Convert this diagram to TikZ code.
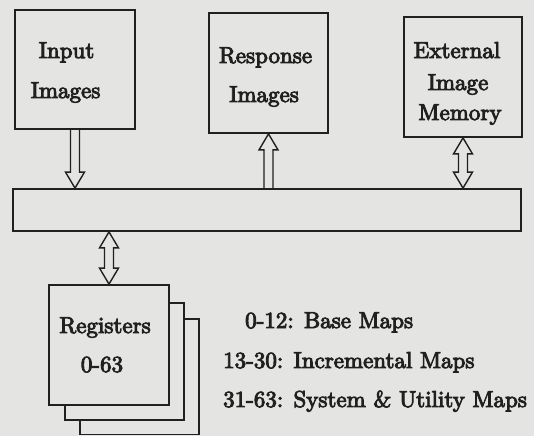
\documentclass[tikz,border=0pt]{standalone}
\usepackage{fontspec}
\newfontfamily\lblfont{lmroman10-regular.otf}[FakeBold=4]
\usetikzlibrary{calc}
\definecolor{paper}{RGB}{228,228,226}
\definecolor{ink}{RGB}{32,32,32}
\tikzset{
  box/.style={draw=ink, line width=1.8pt, rectangle, inner sep=0pt},
  stackbox/.style={box, fill=paper},
  lbl/.style={inner sep=0pt, anchor=base, text=ink, font=\lblfont\fontsize{23}{27}\selectfont},
  lbll/.style={lbl, anchor=base west},
  arr/.style={draw=ink, line width=1.4pt, line join=miter}
}
\newcommand\arrdown[2]{\draw[arr] let \p1=(#1), \p2=(#2) in
  (\x1-4.5pt,\y1) -- (\x1-4.5pt,\y2+16pt) -- (\x1-9.5pt,\y2+16pt) -- (\x1,\y2)
  -- (\x1+9.5pt,\y2+16pt) -- (\x1+4.5pt,\y2+16pt) -- (\x1+4.5pt,\y1);}
\newcommand\arrup[2]{\draw[arr] let \p1=(#1), \p2=(#2) in
  (\x2-4.5pt,\y1) -- (\x2-4.5pt,\y2-16pt) -- (\x2-9.5pt,\y2-16pt) -- (\x2,\y2)
  -- (\x2+9.5pt,\y2-16pt) -- (\x2+4.5pt,\y2-16pt) -- (\x2+4.5pt,\y1);}
\newcommand\arrboth[3]{\draw[arr] let \p1=(#1), \p2=(#2), \p3=(#3) in
  (\x1,\y2) -- (\x1-9.5pt,\y2+16pt) -- (\x1-4.5pt,\y2+16pt) -- (\x1-4.5pt,\y3-16pt)
  -- (\x1-9.5pt,\y3-16pt) -- (\x1,\y3) -- (\x1+9.5pt,\y3-16pt) -- (\x1+4.5pt,\y3-16pt)
  -- (\x1+4.5pt,\y2+16pt) -- (\x1+9.5pt,\y2+16pt) -- cycle;}
\begin{document}
\begin{tikzpicture}[x=1pt,y=-1pt]
\useasboundingbox (0,0) rectangle (534,436);
\fill[paper] (0,0) rectangle (534,436);

% top boxes
\node[box, minimum width=120pt, minimum height=119pt] (inp) at (75,69.5) {};
\node[box, minimum width=119pt, minimum height=120pt] (resp) at (268.5,73) {};
\node[box, minimum width=118pt, minimum height=120pt] (ext) at (463,77) {};
% bus
\node[box, minimum width=508pt, minimum height=42pt] (bus) at (267,210) {};
% register stack
\node[stackbox, minimum width=119pt, minimum height=115.5pt] (reg3) at (139.5,376.75) {};
\node[stackbox, minimum width=119pt, minimum height=117pt] (reg2) at (124.5,361.5) {};
\node[stackbox, minimum width=120pt, minimum height=120pt] (reg1) at (109,345) {};

% labels
\node[lbl] (tInput) at (66.5,58) {Input};
\node[lbl] (tInImg) at (65.5,98) {Images};
\node[lbl] (tResp) at (265.5,63) {Response};
\node[lbl] (tRespImg) at (264,102) {Images};
\node[lbl] (tExt) at (457,58) {External};
\node[lbl] (tExtImg) at (458,90) {Image};
\node[lbl] (tMem) at (460,120) {Memory};
\node[lbl] (tReg) at (105,333) {Registers};
\node[lbl] (tRegN) at (102,372) {0-63};
\node[lbll] (l1) at (245,328) {0-12: Base Maps};
\node[lbll] (l2) at (223,368) {13-30: Incremental Maps};
\node[lbll] (l3) at (223,407) {31-63: System \& Utility Maps};

% connectors
\arrdown{inp.south}{bus.north}
\arrup{bus.north}{resp.south}
\arrboth{ext.south}{bus.north}{ext.south}
\arrboth{reg1.north}{reg1.north}{bus.south}
\end{tikzpicture}
\end{document}
